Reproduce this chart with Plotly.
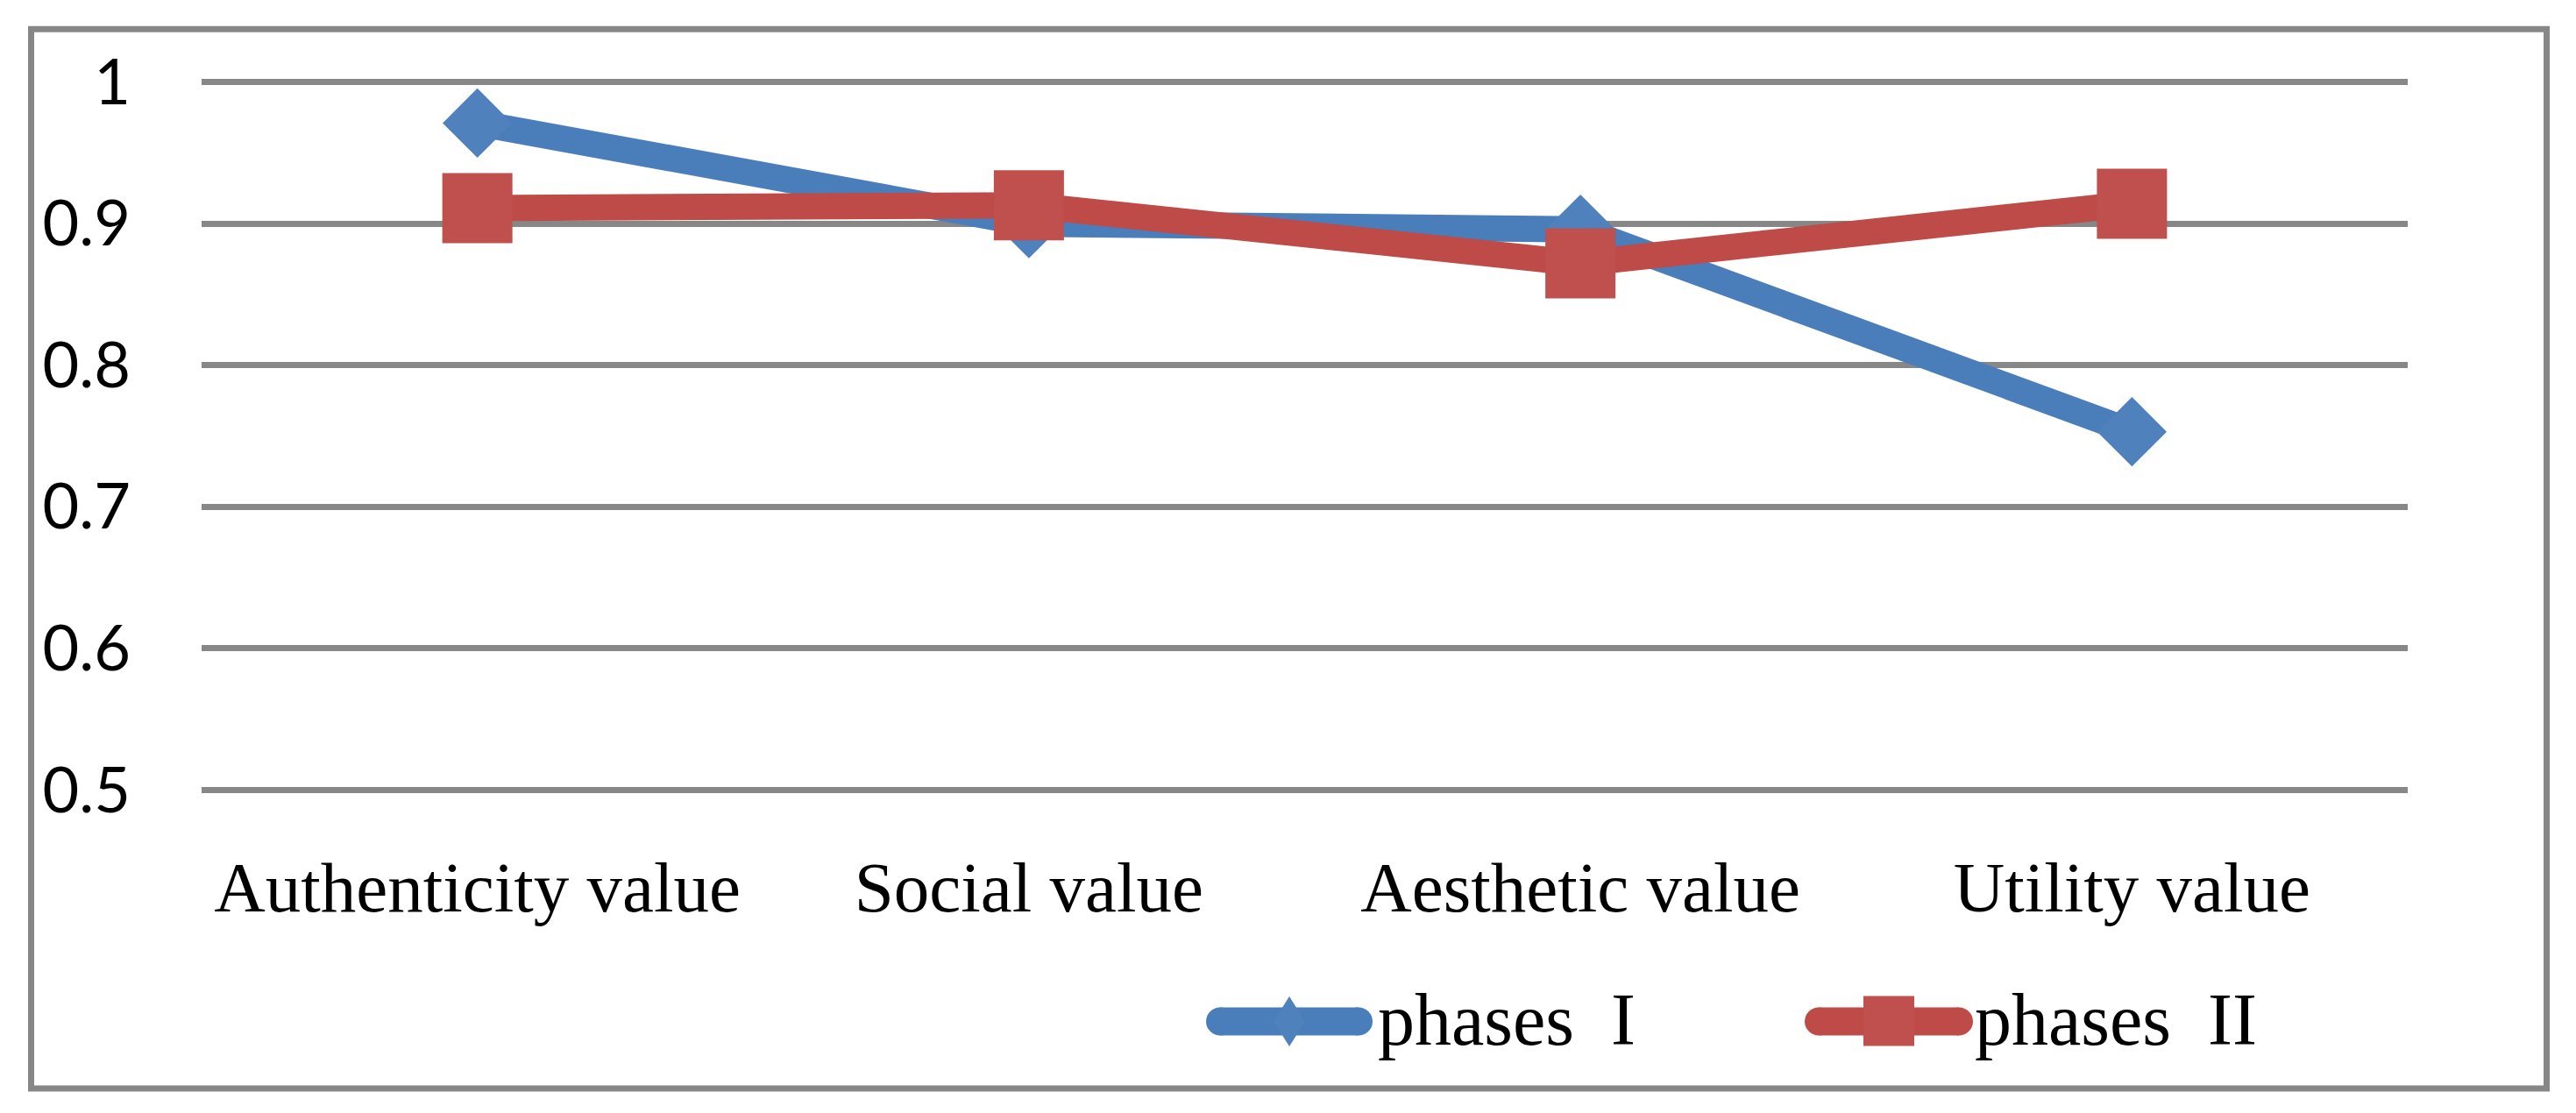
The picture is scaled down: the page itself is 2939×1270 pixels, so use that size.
import plotly.graph_objects as go

# ---- data ----
categories = ["Authenticity value", "Social value", "Aesthetic value", "Utility value"]
phase1 = [0.971, 0.900, 0.896, 0.753]
phase2 = [0.911, 0.913, 0.872, 0.914]
series_names = ["phases\u00a0\u00a0I", "phases\u00a0\u00a0II"]
y_tickvals = [0.5, 0.6, 0.7, 0.8, 0.9, 1.0]
y_ticktext = ["0.5", "0.6", "0.7", "0.8", "0.9", "1"]

# ---- style ----
W_FIG, H_FIG = 2939, 1270
L, R, T, B = 230, 192, 91.7, 366.7
PW = W_FIG - L - R
PH = H_FIG - T - B
GRID = "#878787"
BLUE_LINE, BLUE_MK = "#4A7EBB", "#4F81BD"
RED_LINE, RED_MK = "#BE4B48", "#C0504D"


def xp(px):
    return (px - L) / PW


def yp(py):
    return 1 - (py - T) / PH


fig = go.Figure()
fig.add_trace(go.Scatter(
    x=categories, y=phase1, name=series_names[0], mode="lines+markers",
    line=dict(color=BLUE_LINE, width=30),
    marker=dict(symbol="diamond", size=61, color=BLUE_MK, line=dict(width=0)),
    cliponaxis=False, showlegend=False))
fig.add_trace(go.Scatter(
    x=categories, y=phase2, name=series_names[1], mode="lines+markers",
    line=dict(color=RED_LINE, width=30),
    marker=dict(symbol="square", size=80, color=RED_MK, line=dict(width=0)),
    cliponaxis=False, showlegend=False))

shapes = []
# outer border
shapes.append(dict(type="rect", xref="paper", yref="paper",
                   x0=xp(35.5), x1=xp(2905.5), y0=yp(33), y1=yp(1242.5),
                   line=dict(color=GRID, width=7), layer="below"))


def capsule(x0, x1, yc, r, color):
    out = [dict(type="rect", xref="paper", yref="paper",
                x0=xp(x0 + r), x1=xp(x1 - r), y0=yp(yc + r), y1=yp(yc - r),
                fillcolor=color, line=dict(width=0))]
    for cx in (x0 + r, x1 - r):
        out.append(dict(type="circle", xref="paper", yref="paper",
                        x0=xp(cx - r), x1=xp(cx + r), y0=yp(yc + r), y1=yp(yc - r),
                        fillcolor=color, line=dict(width=0)))
    return out


# legend samples
shapes += capsule(1376, 1566, 1166, 16, BLUE_LINE)
cx, cy, hw, hh = 1471, 1166, 18, 28.5
shapes.append(dict(type="path", xref="paper", yref="paper",
                   path=f"M {xp(cx)},{yp(cy - hh)} L {xp(cx + hw)},{yp(cy)} L {xp(cx)},{yp(cy + hh)} L {xp(cx - hw)},{yp(cy)} Z",
                   fillcolor=BLUE_MK, line=dict(width=0)))
shapes += capsule(2059, 2251, 1166, 16, RED_LINE)
shapes.append(dict(type="rect", xref="paper", yref="paper",
                   x0=xp(2126), x1=xp(2184), y0=yp(1194), y1=yp(1137),
                   fillcolor=RED_MK, line=dict(width=0)))

annotations = [
    dict(text=series_names[0], xref="paper", yref="paper", x=xp(1570), y=yp(1164),
         xanchor="left", yanchor="middle", showarrow=False,
         font=dict(family="Liberation Serif", size=84, color="black")),
    dict(text=series_names[1], xref="paper", yref="paper", x=xp(2251), y=yp(1164),
         xanchor="left", yanchor="middle", showarrow=False,
         font=dict(family="Liberation Serif", size=84, color="black")),
]

fig.update_layout(
    width=W_FIG, height=H_FIG,
    margin=dict(l=L, r=R, t=T, b=B, pad=0),
    paper_bgcolor="white", plot_bgcolor="white",
    shapes=shapes, annotations=annotations,
    showlegend=False,
    xaxis=dict(type="category", range=[-0.5, 3.5], showgrid=False, showline=False,
               zeroline=False, ticks="", ticklabelstandoff=55,
               tickfont=dict(family="Liberation Serif", size=81, color="black")),
    yaxis=dict(range=[0.499, 1.001], tickvals=y_tickvals, ticktext=y_ticktext,
               showgrid=True, gridcolor=GRID, gridwidth=7, zeroline=False,
               showline=False, ticks="", ticklabelstandoff=80,
               tickfont=dict(family="Lato", size=72, color="black")),
)

fig.write_html("out.html", config={"displayModeBar": False},
               post_script="document.body.style.margin='0';document.body.style.overflow='hidden';")
